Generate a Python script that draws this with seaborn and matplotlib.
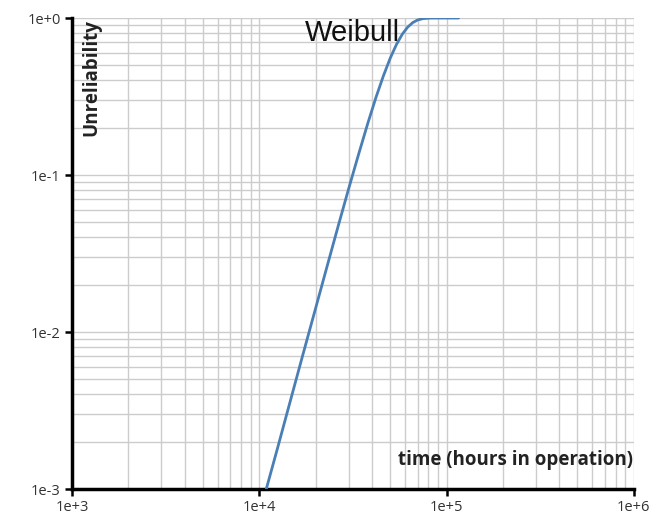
import matplotlib
matplotlib.use("Agg")
import matplotlib.pyplot as plt
import matplotlib.ticker as mticker
import pandas as pd
import seaborn as sns

# Weibull unreliability curve, read as (time, unreliability) pairs
hours = [1.09e4, 1.25e4, 1.45e4, 1.7e4, 2.0e4, 2.3e4, 2.65e4, 3.0e4, 3.4e4,
         3.8e4, 4.2e4, 4.6e4, 5.0e4, 5.4e4, 5.8e4, 6.2e4, 6.6e4, 7.0e4,
         7.5e4, 8.2e4, 9.0e4, 1.0e5, 1.16e5]
unreliability = [1.0e-3, 1.81e-3, 3.48e-3, 7.0e-3, 0.0142, 0.0261, 0.0482,
                 0.0817, 0.137, 0.214, 0.3125, 0.428, 0.554, 0.678, 0.788,
                 0.875, 0.935, 0.971, 0.992, 0.9992, 1.0, 1.0, 1.0]

x_ticks = [1e3, 1e4, 1e5, 1e6]
x_tick_labels = ["1e+3", "1e+4", "1e+5", "1e+6"]
y_ticks = [1e-3, 1e-2, 1e-1, 1e0]
y_tick_labels = ["1e-3", "1e-2", "1e-1", "1e+0"]

title = "Weibull"
x_label = "time (hours in operation)"
y_label = "Unreliability"

df = pd.DataFrame({"hours": hours, "unreliability": unreliability})

sns.set_theme(style="white")
plt.rcParams["font.family"] = ["Open Sans", "DejaVu Sans"]

fig = plt.figure(figsize=(6.63, 5.22), dpi=100)
ax = fig.add_axes([0.1086, 0.0632, 0.8474, 0.9023])

sns.lineplot(data=df, x="hours", y="unreliability", ax=ax,
             color="#4a7fb5", linewidth=2.0, zorder=3)

ax.set_xscale("log")
ax.set_yscale("log")
ax.set_xlim(1e3, 1e6)
ax.set_ylim(1e-3, 1e0)

ax.set_xticks(x_ticks)
ax.set_xticklabels(x_tick_labels)
ax.set_yticks(y_ticks)
ax.set_yticklabels(y_tick_labels)
ax.xaxis.set_minor_locator(mticker.LogLocator(base=10, subs=range(2, 10)))
ax.yaxis.set_minor_locator(mticker.LogLocator(base=10, subs=range(2, 10)))
ax.xaxis.set_minor_formatter(mticker.NullFormatter())
ax.yaxis.set_minor_formatter(mticker.NullFormatter())

ax.grid(True, which="both", color="#cccccc", linewidth=1.0)
ax.set_axisbelow(True)

for side in ("top", "right"):
    ax.spines[side].set_visible(False)
for side in ("left", "bottom"):
    ax.spines[side].set_color("black")
    ax.spines[side].set_linewidth(2.5)

ax.tick_params(axis="both", which="major", direction="out", length=5, width=1.8,
               color="black", labelsize=10.5, labelcolor="#333333", pad=3,
               bottom=True, left=True)
ax.tick_params(axis="both", which="minor", length=0)

ax.set_xlabel("")
ax.set_ylabel("")
ax.text(0.998, 0.04, x_label, transform=ax.transAxes, ha="right", va="bottom",
        fontsize=13.5, fontweight="bold", color="#222222")
ax.text(0.035, 0.997, y_label, transform=ax.transAxes, ha="center", va="top",
        rotation=90, fontsize=13.5, fontweight="bold", color="#222222")

fig.text(352 / 663, 1 - 33 / 522, title, ha="center", va="center",
         fontsize=21, family=["Liberation Sans", "DejaVu Sans"], color="#111111")

fig.savefig("out.png", dpi=100, facecolor="white")
